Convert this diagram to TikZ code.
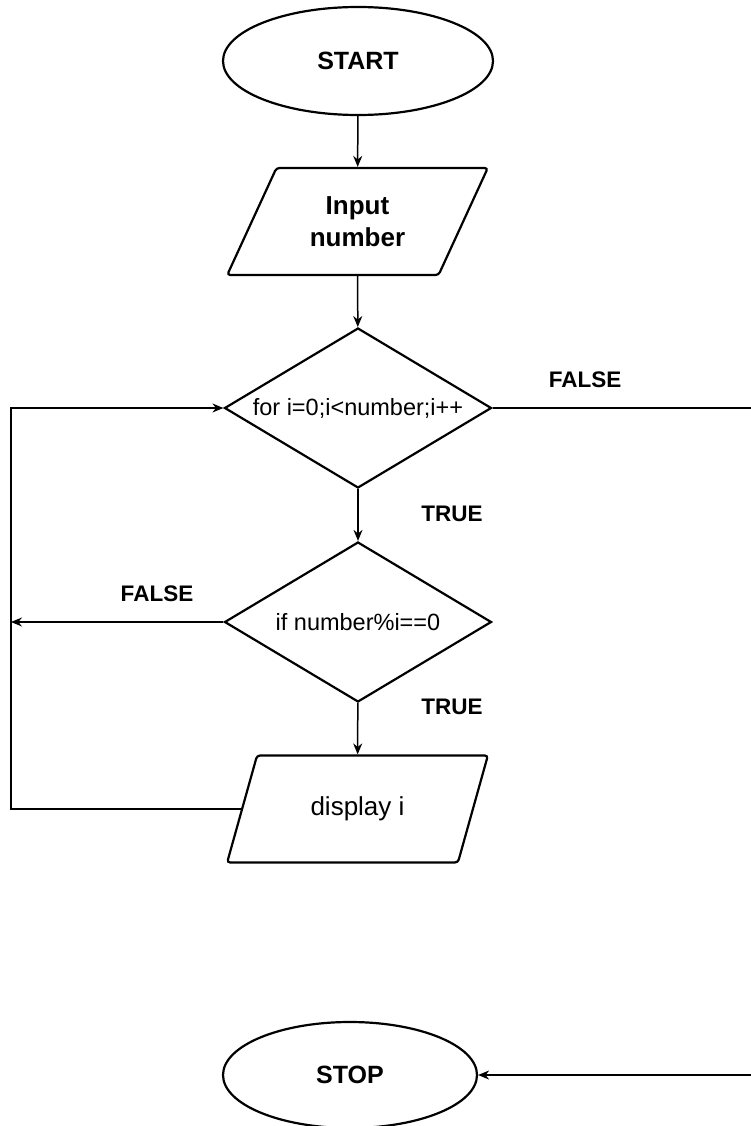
\documentclass[tikz,border=0pt]{standalone}
\usepackage{fontspec}
\setmainfont{Liberation Sans}
\usetikzlibrary{shapes.geometric,arrows.meta}
\begin{document}
\begin{tikzpicture}[x=1pt,y=-1pt,
  shapebox/.style={draw=black,line width=2.2pt,inner sep=0pt},
  term/.style={shapebox,ellipse,font=\bfseries\fontsize{25}{30}\selectfont},
  io/.style={shapebox,trapezium,trapezium left angle=60,trapezium right angle=120,
    trapezium stretches=true,minimum width=261pt,minimum height=107pt,rounded corners=3pt,align=center},
  dec/.style={shapebox,diamond,minimum width=267pt,minimum height=160pt,
    font=\fontsize{23.5}{28}\selectfont},
  conn/.style={line width=1.5pt,-{Stealth[length=11pt,width=9pt]}},
  plain/.style={line width=1.5pt},
  lbl/.style={font=\bfseries\fontsize{22.5}{27}\selectfont,inner sep=0pt}]
\useasboundingbox (0,0) rectangle (751,1126);

\node[term,minimum width=270pt,minimum height=108pt] (start) at (358,61) {START};
\node[io,font=\bfseries\fontsize{26}{32}\selectfont] (inp) at (357.5,221.5) {Input\\number};
\node[dec] (d1) at (358,408) {\makebox[0pt]{for i=0;i<number;i++}};
\node[dec] (d2) at (358,622) {\makebox[0pt]{if number\%i==0}};
\node[io,font=\fontsize{26}{32}\selectfont] (disp) at (357.5,809) {display i};
\node[term,minimum width=254pt,minimum height=106pt] (stop) at (350,1075) {STOP};

\coordinate (lx) at (11,0);
\coordinate (fr) at (751,408);
\coordinate (sr) at (751,1075);

\draw[conn] (start) -- (inp);
\draw[conn] (inp) -- (d1);
\draw[conn] (d1) -- (d2);
\draw[conn] (d2) -- (disp);
\draw[conn] (disp.west) -- (disp.west -| lx) |- (d1.west);
\draw[conn] (d2.west) -- (d2.west -| lx);
\draw[plain] (d1.east) -- (fr);
\draw[conn] (sr) -- (stop.east);

\node[lbl] (f1) at (585,380) {FALSE};
\node[lbl] (t1) at (452,514) {TRUE};
\node[lbl] (f2) at (157,594) {FALSE};
\node[lbl] (t2) at (452,707) {TRUE};
\end{tikzpicture}
\end{document}
